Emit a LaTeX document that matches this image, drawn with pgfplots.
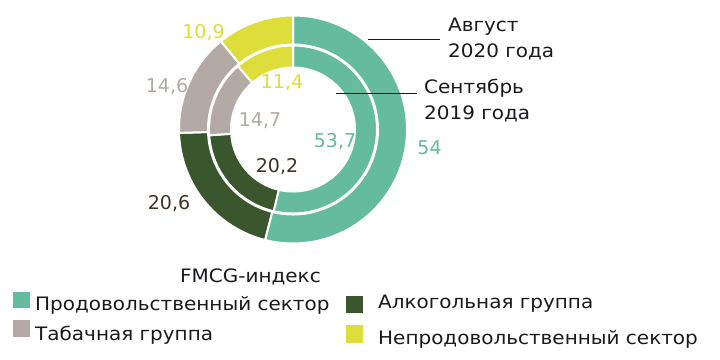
\documentclass[border=0pt]{standalone}
\usepackage{pgfplots}
\pgfplotsset{compat=1.18}
\usepackage{pgfplotstable}
\usepackage{fontspec}
\setmainfont{DejaVu Sans}
\newfontfamily\txtfont{DejaVu Sans}[FakeStretch=1.08]

\definecolor{cfood}{RGB}{101,187,157}
\definecolor{calc}{RGB}{58,86,44}
\definecolor{ctob}{RGB}{179,170,166}
\definecolor{cnon}{RGB}{222,222,58}
\definecolor{tdark}{RGB}{62,50,36}
\definecolor{tblack}{RGB}{25,25,30}

\pgfplotstableread{
value col
54 cfood
20.6 calc
14.6 ctob
10.9 cnon
}\outerdata
\pgfplotstableread{
value col
53.7 cfood
20.2 calc
14.7 ctob
11.4 cnon
}\innerdata

\newcommand\drawring[3]{%
  \pgfplotstablegetrowsof{#1}%
  \pgfmathtruncatemacro\lastrow{\pgfplotsretval-1}%
  \gdef\ringtotal{0}%
  \foreach \i in {0,...,\lastrow}{%
    \pgfplotstablegetelem{\i}{value}\of{#1}%
    \pgfmathsetmacro\tmp{\ringtotal+\pgfplotsretval}%
    \xdef\ringtotal{\tmp}%
  }%
  \gdef\angstart{90}%
  \pgfmathsetmacro\dr{#2-#3}%
  \foreach \i in {0,...,\lastrow}{%
    \pgfplotstablegetelem{\i}{value}\of{#1}\let\vval\pgfplotsretval
    \pgfplotstablegetelem{\i}{col}\of{#1}\let\colname\pgfplotsretval
    \pgfmathsetmacro\angend{\angstart-\vval/\ringtotal*360}%
    \path[fill=\colname, draw=white, line width=2pt, line join=miter]
      (axis cs:293,129.5) ++(\angstart:#3pt)
      arc[start angle=\angstart, end angle=\angend, radius=#3pt]
      -- ++(\angend:\dr pt)
      arc[start angle=\angend, end angle=\angstart, radius=#2pt] -- cycle;
    \xdef\angstart{\angend}%
  }%
}

\begin{document}
\begin{tikzpicture}
\begin{axis}[
  width=720pt, height=359pt, scale only axis,
  xmin=0, xmax=720, ymin=0, ymax=359, y dir=reverse,
  hide axis, clip=false,
]
\path (axis cs:0,0) rectangle (axis cs:720,359);
\pgfplotsextra{%
  \drawring{\outerdata}{85}{114}%
  \drawring{\innerdata}{62}{84}%
}
% value labels
\begin{scope}[font=\fontsize{19}{22}\selectfont]
\node[anchor=base, text=cnon] at (axis cs:203.5,38.5) {10,9};
\node[anchor=base, text=ctob] at (axis cs:167,92) {14,6};
\node[anchor=base, text=tdark] at (axis cs:169,209) {20,6};
\node[anchor=base, text=cfood] at (axis cs:429.5,154) {54};
\node[anchor=base, text=cnon] at (axis cs:282,88) {11,4};
\node[anchor=base, text=ctob] at (axis cs:260,126.5) {14,7};
\node[anchor=base, text=cfood] at (axis cs:335,147.5) {53,7};
\node[anchor=base, text=tdark] at (axis cs:277,172.5) {20,2};
\end{scope}
% callouts
\draw[tblack, line width=0.9pt] (axis cs:368,39) -- (axis cs:440,39);
\draw[tblack, line width=0.9pt] (axis cs:336,93) -- (axis cs:417,93);
\begin{scope}[font=\txtfont\fontsize{18.5}{22}\selectfont, text=tblack]
\node[anchor=base west, inner sep=0pt] at (axis cs:448,31) {Август};
\node[anchor=base west, inner sep=0pt] at (axis cs:448,57) {2020 года};
\node[anchor=base west, inner sep=0pt] at (axis cs:424,93) {Сентябрь};
\node[anchor=base west, inner sep=0pt] at (axis cs:424,119) {2019 года};
% legend
\node[anchor=base west, inner sep=0pt] at (axis cs:180,282) {FMCG-индекс};
\node[anchor=base west, inner sep=0pt] at (axis cs:35,310) {Продовольственный сектор};
\node[anchor=base west, inner sep=0pt] at (axis cs:35,340) {Табачная группа};
\node[anchor=base west, inner sep=0pt] at (axis cs:378,308) {Алкогольная группа};
\node[anchor=base west, inner sep=0pt] at (axis cs:378,344) {Непродовольственный сектор};
\end{scope}
\fill[cfood] (axis cs:13,292) rectangle (axis cs:30,308);
\fill[ctob] (axis cs:13,320) rectangle (axis cs:30,337);
\fill[calc] (axis cs:346,296) rectangle (axis cs:363,313);
\fill[cnon] (axis cs:346,325) rectangle (axis cs:363,343);
\end{axis}
\end{tikzpicture}
\end{document}
